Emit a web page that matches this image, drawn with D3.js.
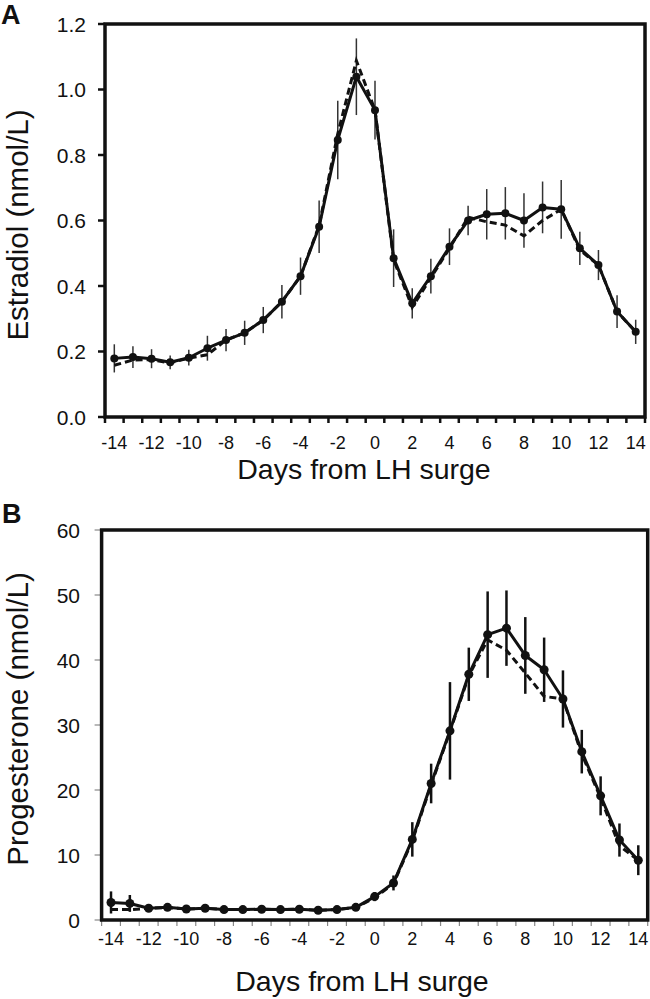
<!DOCTYPE html>
<html><head><meta charset="utf-8">
<script src="https://cdn.jsdelivr.net/npm/d3@7/dist/d3.min.js"></script>
<style>body{margin:0;background:#fff}svg{display:block}text{font-family:"Liberation Sans",Arial,sans-serif;fill:#111}</style>
</head><body><svg id="c" width="650" height="999"></svg>
<script>
const days = d3.range(-14, 15);
const dayLabels = [-14,-12,-10,-8,-6,-4,-2,0,2,4,6,8,10,12,14];

const e2Solid = [0.179,0.183,0.178,0.167,0.181,0.21,0.235,0.257,0.296,0.352,0.43,0.581,0.846,1.039,0.937,0.485,0.347,0.43,0.52,0.6,0.619,0.622,0.6,0.64,0.634,0.515,0.464,0.322,0.26];
const e2Dashed = [0.158,0.174,0.175,0.165,0.18,0.19,0.235,0.257,0.296,0.352,0.43,0.585,0.865,1.088,0.937,0.48,0.335,0.425,0.515,0.61,0.596,0.586,0.553,0.6,0.634,0.51,0.464,0.322,0.26];
const e2Err = [0.043,0.033,0.029,0.021,0.024,0.038,0.034,0.037,0.04,0.051,0.057,0.08,0.12,0.117,0.09,0.088,0.046,0.053,0.056,0.045,0.077,0.08,0.083,0.079,0.09,0.051,0.046,0.05,0.037];
const e2Ticks = [0,0.2,0.4,0.6,0.8,1.0,1.2];

const pSolid = [2.7,2.55,1.8,1.95,1.7,1.8,1.6,1.6,1.65,1.6,1.65,1.5,1.6,1.95,3.6,5.7,12.4,21.0,29.1,37.8,43.9,44.9,40.7,38.5,34.0,25.9,19.1,12.3,9.2];
const pDashed = [1.6,1.6,1.8,1.9,1.7,1.8,1.6,1.6,1.65,1.6,1.65,1.5,1.6,1.95,3.4,5.6,12.2,20.8,29.0,37.6,43.1,41.5,38.0,34.4,34.0,25.5,18.8,11.4,9.2];
const pErr = [1.7,1.3,0.4,0.4,0.3,0.3,0.3,0.3,0.3,0.3,0.3,0.3,0.3,0.4,0.7,1.15,2.65,3.05,7.5,4.1,6.65,5.8,5.9,4.95,4.4,3.35,3.0,2.55,2.3];
const pTicks = [0,10,20,30,40,50,60];

const svg = d3.select("#c");

function panel(o){
  const g = svg.append("g");
  const x = d3.scaleBand().domain(days).range([o.x0, o.x1]).padding(0);
  const y = d3.scaleLinear().domain(o.yDomain).range([o.yBottom, o.yTop]);
  const cx = d => x(d) + x.bandwidth()/2;

  // y axis ticks
  g.selectAll(".yt").data(o.yTicks).join("line")
    .attr("x1", o.x0 - 7).attr("x2", o.x0).attr("y1", d=>y(d)).attr("y2", d=>y(d))
    .attr("stroke", o.tickColor).attr("stroke-width", o.tickW);
  g.selectAll(".yl").data(o.yTicks).join("text")
    .attr("text-anchor","end")
    .attr("x", o.yLabelX).attr("y", d=>y(d)+7.5)
    .attr("font-size", 21)
    .text(d=>o.yFmt(d));

  // x ticks at band edges
  const edges = days.map(d=>x(d)).concat([o.x1]);
  g.selectAll(".xt").data(edges).join("line")
    .attr("x1", d=>d).attr("x2", d=>d).attr("y1", o.yBottom).attr("y2", o.yBottom+6)
    .attr("stroke", o.tickColor).attr("stroke-width", o.tickW);
  g.selectAll(".xl").data(dayLabels).join("text")
    .attr("text-anchor","middle")
    .attr("x", d=>cx(d)).attr("y", o.xLabelY)
    .attr("font-size", 18)
    .text(d=>d);

  // frame
  g.append("rect").attr("x", o.x0).attr("y", o.yTop).attr("width", o.x1-o.x0).attr("height", o.yBottom-o.yTop)
    .attr("fill","none").attr("stroke","#111").attr("stroke-width", 3.5);

  // error bars
  g.selectAll(".eb").data(days).join("line")
    .attr("x1", d=>cx(d)).attr("x2", d=>cx(d))
    .attr("y1", (d,i)=>y(o.solid[i]+o.err[i])).attr("y2", (d,i)=>y(o.solid[i]-o.err[i]))
    .attr("stroke", o.errColor).attr("stroke-width", o.errW);

  const line = d3.line().x((v,i)=>cx(days[i])).y(v=>y(v));
  g.append("path").datum(o.dashed).attr("d", line).attr("fill","none")
    .attr("stroke","#111").attr("stroke-width",3).attr("stroke-dasharray","7,4");
  g.append("path").datum(o.solid).attr("d", line).attr("fill","none")
    .attr("stroke","#111").attr("stroke-width",3).attr("stroke-linejoin","round");
  g.selectAll(".pt").data(o.solid).join("circle")
    .attr("cx",(v,i)=>cx(days[i])).attr("cy", v=>y(v)).attr("r", o.r).attr("fill","#111");

  // titles
  g.append("text").attr("text-anchor","middle")
    .attr("x", o.xTitleX).attr("y", o.xTitleY)
    .attr("font-size", 28.5).text("Days from LH surge");
  g.append("text").attr("text-anchor","middle")
    .attr("transform", `translate(27.5,${o.yTitleY}) rotate(-90)`)
    .attr("font-size", 29.5).text(o.yTitle);
  g.append("text").attr("x", o.letterX).attr("y", o.letterY)
    .attr("font-size", 27).attr("font-weight","bold").text(o.letter);
}

panel({x0:105, x1:645, yTop:24, yBottom:417, yDomain:[0,1.2], yTicks:e2Ticks, yFmt:d=>d.toFixed(1),
  yLabelX:86, xLabelY:449, xTitleX:364, xTitleY:479, yTitleY:225, yTitle:"Estradiol (nmol/L)",
  solid:e2Solid, dashed:e2Dashed, err:e2Err, errColor:"#333", errW:1.5, r:4,
  tickColor:"#111", tickW:2.5, letter:"A", letterX:1, letterY:24});

panel({x0:101.6, x1:647.7, yTop:530, yBottom:920, yDomain:[0,60], yTicks:pTicks, yFmt:d=>d,
  yLabelX:80, xLabelY:945, xTitleX:362, xTitleY:991, yTitleY:719, yTitle:"Progesterone (nmol/L)",
  solid:pSolid, dashed:pDashed, err:pErr, errColor:"#111", errW:2.5, r:4.5,
  tickColor:"#888", tickW:1.2, letter:"B", letterX:2, letterY:523});
</script></body></html>
